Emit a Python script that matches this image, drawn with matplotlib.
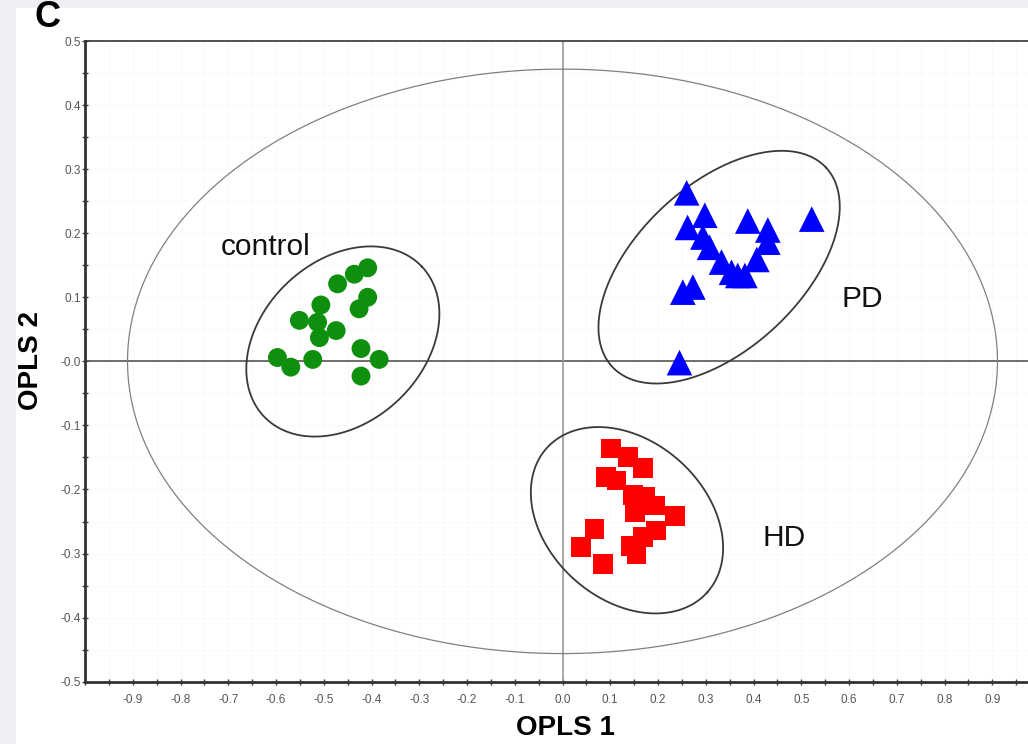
import numpy as np
import matplotlib
matplotlib.use("Agg")
import matplotlib.pyplot as plt
from matplotlib.patches import Rectangle
from matplotlib.ticker import FixedLocator, FixedFormatter, MultipleLocator

plt.rcParams['font.family'] = ['Liberation Sans', 'DejaVu Sans']

# OPLS scores (t1, t2) for each group
control_t1 = [-0.408, -0.436, -0.471, -0.408, -0.426, -0.506, -0.551, -0.513,
              -0.474, -0.509, -0.597, -0.569, -0.523, -0.422, -0.384, -0.422]
control_t2 = [0.146, 0.136, 0.121, 0.100, 0.082, 0.088, 0.064, 0.061,
              0.048, 0.037, 0.006, -0.009, 0.003, 0.020, 0.003, -0.023]

pd_t1 = [0.260, 0.298, 0.262, 0.294, 0.308, 0.333, 0.354, 0.367, 0.388,
         0.430, 0.430, 0.407, 0.522, 0.252, 0.273, 0.245, 0.382]
pd_t2 = [0.263, 0.228, 0.209, 0.194, 0.178, 0.155, 0.139, 0.134, 0.219,
         0.205, 0.186, 0.159, 0.222, 0.108, 0.116, -0.002, 0.134]

hd_t1 = [0.102, 0.137, 0.168, 0.092, 0.113, 0.147, 0.172, 0.193, 0.151,
         0.235, 0.196, 0.168, 0.144, 0.155, 0.067, 0.039, 0.085]
hd_t2 = [-0.136, -0.149, -0.167, -0.180, -0.186, -0.209, -0.212, -0.225, -0.236,
         -0.241, -0.264, -0.274, -0.288, -0.301, -0.261, -0.290, -0.316]

# confidence ellipses: centre, semi-axes (t1 units), tilt (deg)
ell_cx = [0.0, -0.460, 0.328, 0.135]
ell_cy = [0.0, 0.031, 0.147, -0.248]
ell_a = [0.911, 0.228, 0.306, 0.226]
ell_b = [0.612, 0.169, 0.172, 0.166]
ell_tilt = [0.0, 43.5, 43.0, -42.0]

group_names = ['control', 'PD', 'HD']

x_ticks = [round(v, 1) for v in np.arange(-0.9, 0.95, 0.1)]
x_labels = ['%.1f' % v if abs(v) > 1e-9 else '0.0' for v in x_ticks]
y_ticks = [0.5, 0.4, 0.3, 0.2, 0.1, 0.0, -0.1, -0.2, -0.3, -0.4, -0.5]
y_labels = ['0.5', '0.4', '0.3', '0.2', '0.1', '-0.0', '-0.1', '-0.2', '-0.3', '-0.4', '-0.5']

W, H = 1028, 744
fig = plt.figure(figsize=(W / 100, H / 100), dpi=100, facecolor='#edeff2')
# white page under the plot, grey margin on the left and top
fig.patches.append(Rectangle((16 / W, 0), 1, (H - 8) / H, transform=fig.transFigure,
                             facecolor='white', edgecolor='none', zorder=-5))

ax = fig.add_axes([85 / W, 62.3 / H, 955 / W, 640.7 / H])
ax.set_zorder(1)
ax.set_xlim(-1.0, 1.0)
ax.set_ylim(-0.5, 0.5)

# y/x pixel ratio so tilted ellipses look right on screen
k = (955 / 2.0) / (640.7 / 1.0)
t = np.linspace(0, 2 * np.pi, 400)
for cx, cy, a, b, ang in zip(ell_cx, ell_cy, ell_a, ell_b, ell_tilt):
    th = np.radians(ang)
    u = a * np.cos(th) * np.cos(t) - b * np.sin(th) * np.sin(t)
    v = a * np.sin(th) * np.cos(t) + b * np.cos(th) * np.sin(t)
    big = (a > 0.5)
    ax.plot(cx + u, cy + v * k, color='#808080' if big else '#3a3a3a',
            lw=0.9 if big else 1.3, zorder=2)

ax.axhline(0, color='#555555', lw=1.2, zorder=1)
ax.axvline(0, color='#9a9a9a', lw=1.2, zorder=1)

ax.scatter(control_t1, control_t2, s=185, marker='o', color='#0e8f0e', edgecolors='none', zorder=3)
ax.scatter(pd_t1, pd_t2, s=340, marker='^', color='#0000ff', edgecolors='none', zorder=3)
ax.scatter(hd_t1, hd_t2, s=205, marker='s', color='#ff0000', edgecolors='none', zorder=3)

ax.text(-0.621, 0.178, group_names[0], fontsize=21.5, ha='center', va='center', color='#111111')
ax.text(0.627, 0.098, group_names[1], fontsize=21.5, ha='center', va='center', color='#111111')
ax.text(0.465, -0.275, group_names[2], fontsize=21.5, ha='center', va='center', color='#111111')

ax.xaxis.set_major_locator(FixedLocator(x_ticks))
ax.xaxis.set_major_formatter(FixedFormatter(x_labels))
ax.yaxis.set_major_locator(FixedLocator(y_ticks))
ax.yaxis.set_major_formatter(FixedFormatter(y_labels))
ax.xaxis.set_minor_locator(MultipleLocator(0.05))
ax.yaxis.set_minor_locator(MultipleLocator(0.05))
ax.tick_params(which='both', direction='inout', length=4, width=1, color='#444444')
ax.tick_params(axis='x', labelsize=8.5, labelcolor='#555555', pad=7)
ax.tick_params(axis='y', labelsize=8.5, labelcolor='#555555', pad=1)
ax.grid(which='both', color='#f8f8f8', lw=0.6, zorder=0)
ax.set_axisbelow(True)

for side in ['left', 'bottom']:
    ax.spines[side].set_linewidth(2)
    ax.spines[side].set_color('#333333')
ax.spines['top'].set_linewidth(1.2)
ax.spines['top'].set_color('#333333')

fig.text(565 / W, 1 - 728 / H, 'OPLS 1', fontsize=20, fontweight='bold', ha='center', va='center')
fig.text(31 / W, 1 - 360 / H, 'OPLS 2', fontsize=20, fontweight='bold', rotation=90,
         ha='center', va='center')
fig.text(47 / W, 1 - 27 / H, 'C', fontsize=26, fontweight='bold', ha='center', va='baseline')

fig.savefig('out.png', dpi=100, facecolor=fig.get_facecolor())
